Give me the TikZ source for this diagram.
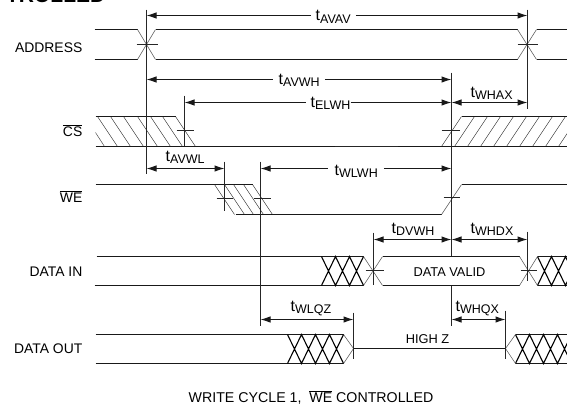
\documentclass[tikz,border=0pt]{standalone}
\usepackage{fontspec}
\setmainfont{Liberation Sans}
\usetikzlibrary{arrows.meta}
\newcommand{\tmg}[1]{t{\fontsize{12.5}{14}\selectfont\raisebox{-2.5pt}{#1}}}
\newcommand{\ovl}[1]{$\overline{\hbox{#1}}$}
\tikzset{
  sigline/.style={line width=1pt,black!90},
  refline/.style={line width=1pt,black!85},
  hatchline/.style={line width=0.45pt,black!75},
  edgeline/.style={line width=0.55pt,black!65},
  xhatchline/.style={line width=1.1pt,black},
  tickline/.style={line width=0.9pt,black!85},
  dimboth/.style={line width=1pt,black!90,{Latex[length=10pt,width=6.5pt]}-{Latex[length=10pt,width=6.5pt]}},
  dimend/.style={line width=1pt,black!90,-{Latex[length=10pt,width=6.5pt]}},
  tlabel/.style={anchor=base west,inner sep=0pt,font=\fontsize{16}{18}\selectfont,black},
  siglabel/.style={anchor=base east,inner sep=0pt,font=\fontsize{13.9}{16}\selectfont,black},
  smalllabel/.style={anchor=base,inner sep=0pt,font=\fontsize{12.8}{14}\selectfont,black},
}
\begin{document}
\begin{tikzpicture}[x=1pt,y=-1pt]
\useasboundingbox (0,0) rectangle (567,408);
\clip (0,0) rectangle (567,408);
\fill[white] (0,0) rectangle (567,408);
\begin{scope}[shift={(0.5,0.5)}]
% clipped heading
\node[anchor=base east,inner sep=0pt,font=\fontsize{21}{24}\selectfont\bfseries] (head) at (105,2) {TROLLED};
% signal names
\node[siglabel] (nAddr) at (82,52) {ADDRESS};
\node[siglabel] (nCS) at (82,136) {\ovl{CS}};
\node[siglabel] (nWE) at (82,202) {\ovl{WE}};
\node[siglabel] (nIn) at (82,276) {DATA IN};
\node[siglabel] (nOut) at (82,353) {DATA OUT};
% hatching
\foreach \x in {97,110,123,137,150,162,175} \draw[hatchline] (\x,116) -- (\x+20,146);
\draw[hatchline] (95,132) -- (104,146);
\foreach \x in {441,454,467,480,493,506,519,532,545,558} \draw[hatchline] (\x,146) -- (\x+20,116);
\foreach \x in {214,224,233,243,252} \draw[hatchline] (\x,184) -- (\x+20,214);
% ADDRESS
\draw[sigline] (94,29) -- (137,29) (94,59) -- (137,59);
\draw[edgeline] (137,29) -- (155,59) (137,59) -- (155,29);
\draw[sigline] (155,29) -- (517,29) (155,59) -- (517,59);
\draw[edgeline] (517,29) -- (536,59) (517,59) -- (536,29);
\draw[sigline] (536,29) -- (567,29) (536,59) -- (567,59);
% CS
\draw[sigline] (95,116) -- (175,116) (95,146) -- (567,146) (461,116) -- (567,116);
\draw[line width=1.3pt,black!85] (334,146) -- (397,146);
% WE
\draw[sigline] (95,184) -- (252,184) (235,214) -- (441,214);
\draw[edgeline] (441,214) -- (461,184);
\draw[sigline] (461,184) -- (567,184);
% DATA IN
\draw[sigline] (96,256) -- (321,256) (94,285) -- (321,285);
\draw[sigline] (321,256) -- (363,256) (321,285) -- (363,285);
\draw[xhatchline] (321,256) -- (335,285) -- (349,256) -- (363,285) (321,285) -- (335,256) -- (349,285) -- (363,256);
\draw[edgeline] (363,256) -- (382,285) (363,285) -- (382,256);
\draw[sigline] (382,256) -- (519,256) (382,285) -- (519,285);
\draw[edgeline] (519,256) -- (537,285) (519,285) -- (537,256);
\draw[sigline] (537,256) -- (567,256) (537,285) -- (567,285);
\draw[xhatchline] (537,256) -- (551,285) -- (565,256) -- (579,285) (537,285) -- (551,256) -- (565,285) -- (579,256);
% DATA OUT
\draw[sigline] (95,334) -- (343,334) (95,363) -- (343,363);
\draw[xhatchline] (287,334) -- (301,363) -- (315,334) -- (329,363) -- (343,334) (287,363) -- (301,334) -- (315,363) -- (329,334) -- (343,363);
\draw[edgeline] (343,334) -- (353,348) -- (343,363);
\draw[sigline] (353,348) -- (505,348);
\draw[edgeline] (515,334) -- (505,348) -- (515,363);
\draw[sigline] (515,334) -- (567,334) (515,363) -- (567,363);
\draw[xhatchline] (515,334) -- (529,363) -- (543,334) -- (557,363) -- (571,334) (515,363) -- (529,334) -- (543,363) -- (557,334) -- (571,363);
% vertical reference lines (named ends)
\coordinate (v1a) at (146,9);   \coordinate (v1b) at (146,173);
\coordinate (v2a) at (527,9);   \coordinate (v2b) at (527,108);
\coordinate (v3a) at (451,72);  \coordinate (v3b) at (451,255);
\coordinate (v3c) at (451,285); \coordinate (v3d) at (451,325);
\coordinate (v4a) at (184,95);  \coordinate (v4b) at (184,145);
\coordinate (v5a) at (224,161); \coordinate (v5b) at (224,210);
\coordinate (v6a) at (260,161); \coordinate (v6b) at (260,325);
\coordinate (v7a) at (373,232); \coordinate (v7b) at (373,284);
\coordinate (v8a) at (527,231); \coordinate (v8b) at (527,280);
\coordinate (v9a) at (353,312); \coordinate (v9b) at (353,358);
\coordinate (v10a) at (505,310); \coordinate (v10b) at (505,358);
\foreach \a/\b in {v1a/v1b,v2a/v2b,v3a/v3b,v3c/v3d,v4a/v4b,v5a/v5b,v6a/v6b,v7a/v7b,v8a/v8b,v9a/v9b,v10a/v10b}
  \draw[refline] (\a) -- (\b);
% crossing ticks
\foreach \xa/\xb/\y in {136/157/44,517/537/44,176/193/130,441/459/130,216/232/198,253/270/198,443/459/197,365/383/270,520/536/270}
  \draw[tickline] (\xa,\y) -- (\xb,\y);
% timing labels
\node[tlabel] (lAVAV) at (315,20) {\tmg{AVAV}};
\node[tlabel] (lAVWH) at (278,83.5) {\tmg{AVWH}};
\node[tlabel] (lELWH) at (310,106.5) {\tmg{ELWH}};
\node[tlabel] (lWHAX) at (470,96.5) {\tmg{WHAX}};
\node[tlabel] (lAVWL) at (165,160.5) {\tmg{AVWL}};
\node[tlabel] (lWLWH) at (334,174.5) {\tmg{WLWH}};
\node[tlabel] (lDVWH) at (391,232.5) {\tmg{DVWH}};
\node[tlabel] (lWHDX) at (470,232.5) {\tmg{WHDX}};
\node[tlabel] (lWLQZ) at (290,310.5) {\tmg{WLQZ}};
\node[tlabel] (lWHQX) at (455,310.5) {\tmg{WHQX}};
% dimension arrows
\coordinate (a1) at (146,15); \coordinate (a2) at (527,15);
\draw[dimend] ([xshift=-5pt]lAVAV.west |- a1) -- (a1);
\draw[dimend] ([xshift=5pt]lAVAV.east |- a2) -- (a2);
\coordinate (b1) at (146,79); \coordinate (b2) at (451,79);
\draw[dimend] ([xshift=-6pt]lAVWH.west |- b1) -- (b1);
\draw[dimend] ([xshift=5pt]lAVWH.east |- b2) -- (b2);
\coordinate (c1) at (184,102); \coordinate (c2) at (451,102); \coordinate (c3) at (527,102);
\draw[dimend] ([xshift=-5pt]lELWH.west |- c1) -- (c1);
\draw[dimend] ([xshift=0pt]lELWH.east |- c2) -- (c2);
\draw[dimboth] (c2) -- (c3);
\coordinate (d1) at (146,168); \coordinate (d2) at (224,168);
\draw[dimboth] (d1) -- (d2);
\coordinate (e1) at (260,168); \coordinate (e2) at (451,168);
\draw[dimend] ([xshift=-7pt]lWLWH.west |- e1) -- (e1);
\draw[dimend] ([xshift=6pt]lWLWH.east |- e2) -- (e2);
\coordinate (f1) at (373,239); \coordinate (f2) at (451,239); \coordinate (f3) at (527,239);
\draw[dimboth] (f1) -- (f2);
\draw[dimboth] (f2) -- (f3);
\coordinate (g1) at (260,319); \coordinate (g2) at (353,319);
\coordinate (g3) at (451,319); \coordinate (g4) at (505,319);
\draw[dimboth] (g1) -- (g2);
\draw[dimboth] (g3) -- (g4);
% inner labels
\node[smalllabel] (valid) at (449,276) {DATA VALID};
\node[smalllabel] (hiz) at (427,343) {HIGH Z};
\node[anchor=base west,inner sep=0pt,font=\fontsize{14.2}{16}\selectfont,black] (cap) at (188,402) {WRITE CYCLE 1,\ \ \ovl{WE} CONTROLLED};
\end{scope}
\end{tikzpicture}
\end{document}
